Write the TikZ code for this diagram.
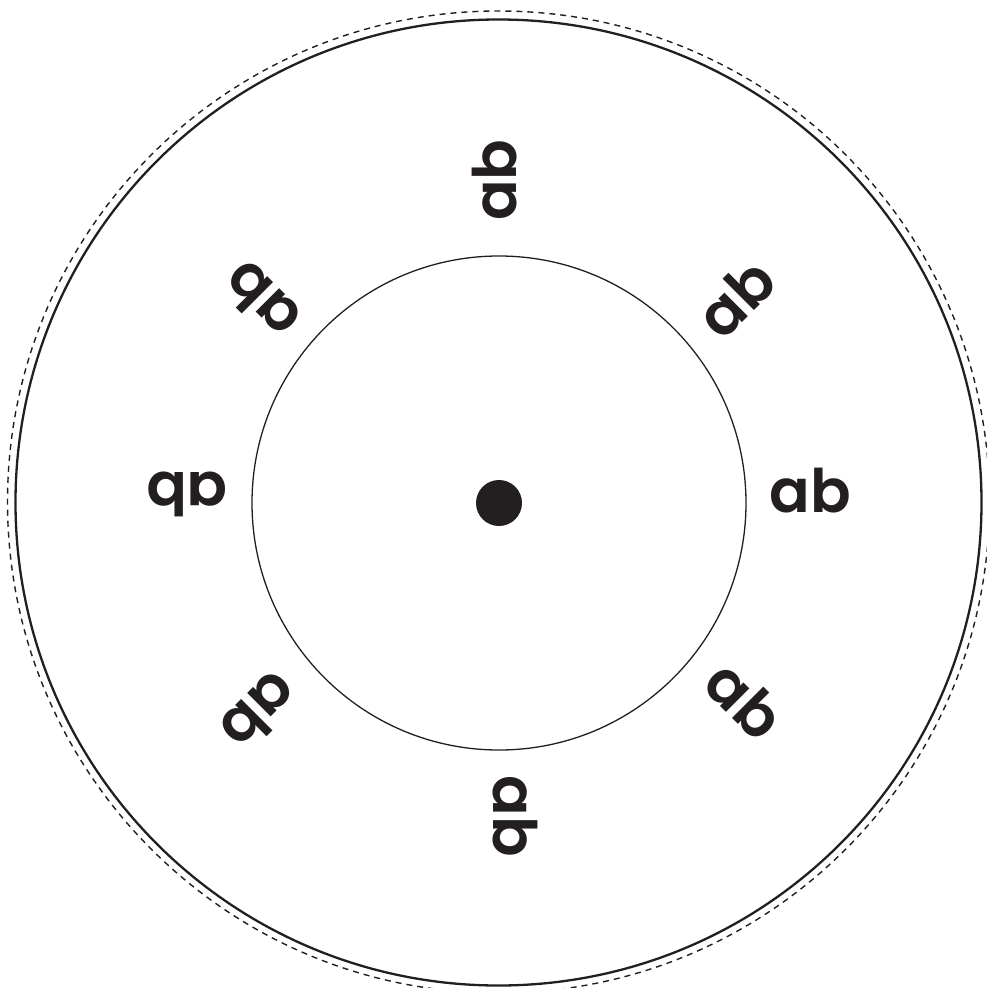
\documentclass[tikz,border=0pt]{standalone}
\usepackage{fontspec}
\newfontfamily\labfont{Poppins}[UprightFont=* SemiBold]
\definecolor{ink}{HTML}{231F20}
\begin{document}
\begin{tikzpicture}[x=1pt,y=-1pt,
  lab/.style={inner sep=0pt, text=ink, font=\labfont\fontsize{60}{60}\selectfont}]
\useasboundingbox (0,0) rectangle (986,988);
\coordinate (c) at (499,503);
\draw[ink, line width=1.4pt, dash pattern=on 6pt off 5pt] (498.5,502) circle[radius=491];
\draw[ink, line width=2.3pt] (498.5,502.5) circle[radius=483];
\draw[ink, line width=1.3pt] (c) circle[radius=247];
\fill[ink] (c) circle[radius=23];
\node[lab, rotate=0]   (l0)   at (810.5,495.5) {\vphantom{x}\smash{ab}};
\node[lab, rotate=45]  (l45)  at (739.5,302)   {\vphantom{x}\smash{ab}};
\node[lab, rotate=90]  (l90)  at (499.5,180)   {\vphantom{x}\smash{ab}};
\node[lab, rotate=135] (l135) at (265,297)     {\vphantom{x}\smash{ab}};
\node[lab, rotate=180] (l180) at (187,489)     {\vphantom{x}\smash{ab}};
\node[lab, rotate=225] (l225) at (256,708)     {\vphantom{x}\smash{ab}};
\node[lab, rotate=270] (l270) at (510,816)     {\vphantom{x}\smash{ab}};
\node[lab, rotate=315] (l315) at (741,704)     {\vphantom{x}\smash{ab}};
\end{tikzpicture}
\end{document}
